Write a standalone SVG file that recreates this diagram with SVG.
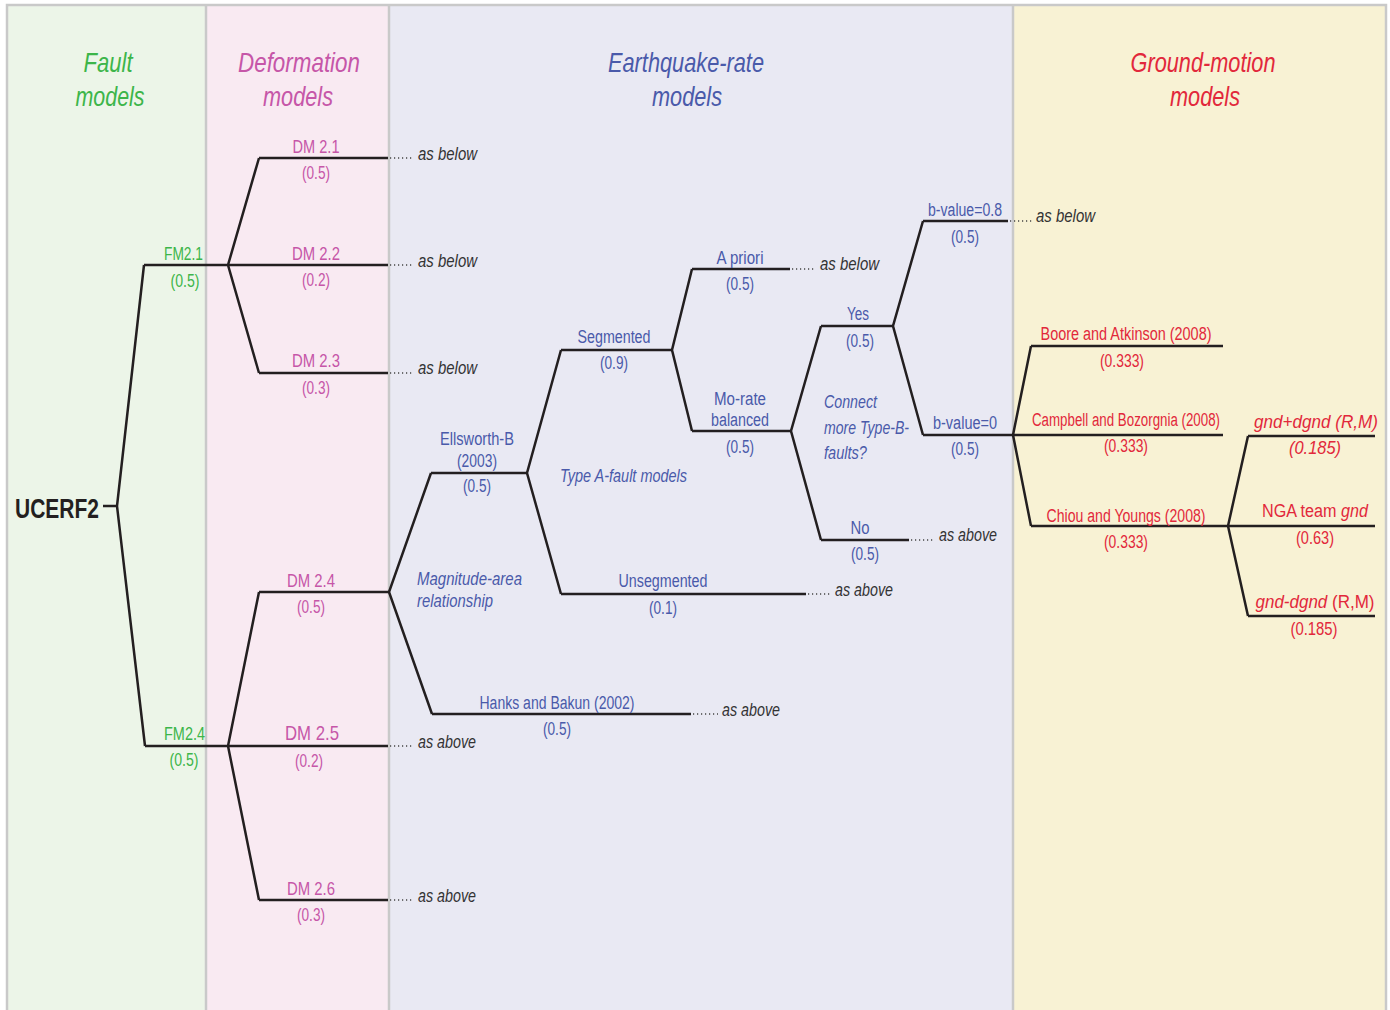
<svg xmlns="http://www.w3.org/2000/svg" width="1390" height="1010" viewBox="0 0 1390 1010">
<style>
text{font-family:"Liberation Sans",Arial,sans-serif;font-size:18px}
.c{text-anchor:middle}
.hd{font-size:28px;font-style:italic;text-anchor:middle}
.it{font-style:italic}
.g{fill:#3db54a}.m{fill:#c656a8}.b{fill:#4a5aaa}.r{fill:#e2283b}.k{fill:#333;font-style:italic}
.br{stroke:#231f20;stroke-width:2.5;fill:none;stroke-linejoin:miter}
.dot{stroke:#444;stroke-width:1.6;stroke-dasharray:1.2 2.8;fill:none}
.sep{stroke:#c9c9c9;stroke-width:2.5;fill:none}
.big{font-size:21px}
.root{font-size:27px;font-weight:bold;fill:#231f20}
</style>
<g id="panels">
<rect x="7" y="5" width="199" height="1010" fill="#ecf5e8"/>
<rect x="206" y="5" width="183" height="1010" fill="#f9eaf2"/>
<rect x="389" y="5" width="624" height="1010" fill="#e9e9f3"/>
<rect x="1013" y="5" width="373" height="1010" fill="#f8f2d4"/>
<path class="sep" d="M7,1012 V5 H1386 V1012 M206,5 V1012 M389,5 V1012 M1013,5 V1012"/>
<text class="hd g" x="108" y="72" textLength="49" lengthAdjust="spacingAndGlyphs">Fault</text>
<text class="hd g" x="110" y="106" textLength="69" lengthAdjust="spacingAndGlyphs">models</text>
<text class="hd m" x="299" y="72" textLength="122" lengthAdjust="spacingAndGlyphs">Deformation</text>
<text class="hd m" x="298" y="106" textLength="70" lengthAdjust="spacingAndGlyphs">models</text>
<text class="hd b" x="686" y="72" textLength="156" lengthAdjust="spacingAndGlyphs">Earthquake-rate</text>
<text class="hd b" x="687" y="106" textLength="70" lengthAdjust="spacingAndGlyphs">models</text>
<text class="hd r" x="1203" y="72" textLength="145" lengthAdjust="spacingAndGlyphs">Ground-motion</text>
<text class="hd r" x="1205" y="106" textLength="70" lengthAdjust="spacingAndGlyphs">models</text>
</g>
<g id="connectors">
<path class="br" d="M103,506 H117 M144,265 L117,506 L145,746"/>
<path class="br" d="M144,265 H388 M259,158 L228,265 L259,373 M259,158 H388 M259,373 H388"/>
<path class="br" d="M145,746 H388 M259,592 L228,746 L259,900 M259,592 H389 M259,900 H388"/>
<path class="br" d="M431,473 L389,592 L432,714 M431,473 H527 M432,714 H691"/>
<path class="br" d="M561,350 L527,473 L561,594 M561,350 H672 M561,594 H806"/>
<path class="br" d="M692,269 L672,350 L692,431 M692,269 H790 M692,431 H791"/>
<path class="br" d="M821,326 L791,431 L821,540 M821,326 H893 M821,540 H909"/>
<path class="br" d="M923,221 L893,326 L923,435 M923,221 H1008 M923,435 H1013"/>
<path class="br" d="M1031,346 L1013,435 L1031,526 M1031,346 H1223 M1013,435 H1223 M1031,526 H1228"/>
<path class="br" d="M1248,436 L1228,526 L1248,616 M1248,436 H1375 M1228,526 H1375 M1248,616 H1375"/>
<path class="dot" d="M390,158 H414 M390,265 H414 M390,373 H414 M390,746 H414 M390,900 H414 M792,269 H816 M808,594 H831 M911,540 H935 M693,714 H718 M1010,221 H1032"/>
</g>
<g id="node-ucerf2"><text class="root" x="15" y="518" textLength="84" lengthAdjust="spacingAndGlyphs">UCERF2</text></g>
<g id="node-fm21"><text class="g" x="164" y="260" textLength="39" lengthAdjust="spacingAndGlyphs">FM2.1</text><text class="g c" x="185" y="287" textLength="29" lengthAdjust="spacingAndGlyphs">(0.5)</text></g>
<g id="node-fm24"><text class="g" x="164" y="740" textLength="41" lengthAdjust="spacingAndGlyphs">FM2.4</text><text class="g c" x="184" y="766" textLength="29" lengthAdjust="spacingAndGlyphs">(0.5)</text></g>
<g id="node-dm21"><text class="m c" x="316" y="153" textLength="47" lengthAdjust="spacingAndGlyphs">DM 2.1</text><text class="m c" x="316" y="179" textLength="28" lengthAdjust="spacingAndGlyphs">(0.5)</text><text class="k" x="418" y="160" textLength="59" lengthAdjust="spacingAndGlyphs">as below</text></g>
<g id="node-dm22"><text class="m c" x="316" y="260" textLength="48" lengthAdjust="spacingAndGlyphs">DM 2.2</text><text class="m c" x="316" y="286" textLength="28" lengthAdjust="spacingAndGlyphs">(0.2)</text><text class="k" x="418" y="267" textLength="59" lengthAdjust="spacingAndGlyphs">as below</text></g>
<g id="node-dm23"><text class="m c" x="316" y="367" textLength="48" lengthAdjust="spacingAndGlyphs">DM 2.3</text><text class="m c" x="316" y="394" textLength="28" lengthAdjust="spacingAndGlyphs">(0.3)</text><text class="k" x="418" y="374" textLength="59" lengthAdjust="spacingAndGlyphs">as below</text></g>
<g id="node-dm24"><text class="m c" x="311" y="587" textLength="48" lengthAdjust="spacingAndGlyphs">DM 2.4</text><text class="m c" x="311" y="613" textLength="28" lengthAdjust="spacingAndGlyphs">(0.5)</text></g>
<g id="node-dm25"><text class="m c big" x="312" y="740" textLength="54" lengthAdjust="spacingAndGlyphs">DM 2.5</text><text class="m c" x="309" y="767" textLength="28" lengthAdjust="spacingAndGlyphs">(0.2)</text><text class="k" x="418" y="748" textLength="58" lengthAdjust="spacingAndGlyphs">as above</text></g>
<g id="node-dm26"><text class="m c" x="311" y="895" textLength="48" lengthAdjust="spacingAndGlyphs">DM 2.6</text><text class="m c" x="311" y="921" textLength="28" lengthAdjust="spacingAndGlyphs">(0.3)</text><text class="k" x="418" y="902" textLength="58" lengthAdjust="spacingAndGlyphs">as above</text></g>
<g id="node-magarea"><text class="b it" x="417" y="585" textLength="105" lengthAdjust="spacingAndGlyphs">Magnitude-area</text><text class="b it" x="417" y="607" textLength="76" lengthAdjust="spacingAndGlyphs">relationship</text></g>
<g id="node-ellsworth"><text class="b c" x="477" y="445" textLength="74" lengthAdjust="spacingAndGlyphs">Ellsworth-B</text><text class="b c" x="477" y="467" textLength="40" lengthAdjust="spacingAndGlyphs">(2003)</text><text class="b c" x="477" y="492" textLength="28" lengthAdjust="spacingAndGlyphs">(0.5)</text></g>
<g id="node-hanks"><text class="b c" x="557" y="709" textLength="155" lengthAdjust="spacingAndGlyphs">Hanks and Bakun (2002)</text><text class="b c" x="557" y="735" textLength="28" lengthAdjust="spacingAndGlyphs">(0.5)</text><text class="k" x="722" y="716" textLength="58" lengthAdjust="spacingAndGlyphs">as above</text></g>
<g id="node-typea"><text class="b it" x="560" y="482" textLength="127" lengthAdjust="spacingAndGlyphs">Type A-fault models</text></g>
<g id="node-segmented"><text class="b c" x="614" y="343" textLength="73" lengthAdjust="spacingAndGlyphs">Segmented</text><text class="b c" x="614" y="369" textLength="28" lengthAdjust="spacingAndGlyphs">(0.9)</text></g>
<g id="node-unsegmented"><text class="b c" x="663" y="587" textLength="89" lengthAdjust="spacingAndGlyphs">Unsegmented</text><text class="b c" x="663" y="614" textLength="28" lengthAdjust="spacingAndGlyphs">(0.1)</text><text class="k" x="835" y="596" textLength="58" lengthAdjust="spacingAndGlyphs">as above</text></g>
<g id="node-apriori"><text class="b c" x="740" y="264" textLength="47" lengthAdjust="spacingAndGlyphs">A priori</text><text class="b c" x="740" y="290" textLength="28" lengthAdjust="spacingAndGlyphs">(0.5)</text><text class="k" x="820" y="270" textLength="59" lengthAdjust="spacingAndGlyphs">as below</text></g>
<g id="node-morate"><text class="b c" x="740" y="405" textLength="52" lengthAdjust="spacingAndGlyphs">Mo-rate</text><text class="b c" x="740" y="426" textLength="58" lengthAdjust="spacingAndGlyphs">balanced</text><text class="b c" x="740" y="453" textLength="28" lengthAdjust="spacingAndGlyphs">(0.5)</text></g>
<g id="node-connect"><text class="b it" x="824" y="408" textLength="53" lengthAdjust="spacingAndGlyphs">Connect</text><text class="b it" x="824" y="434" textLength="85" lengthAdjust="spacingAndGlyphs">more Type-B-</text><text class="b it" x="824" y="459" textLength="43" lengthAdjust="spacingAndGlyphs">faults?</text></g>
<g id="node-yes"><text class="b c" x="858" y="320" textLength="22" lengthAdjust="spacingAndGlyphs">Yes</text><text class="b c" x="860" y="347" textLength="28" lengthAdjust="spacingAndGlyphs">(0.5)</text></g>
<g id="node-no"><text class="b c" x="860" y="534" textLength="19" lengthAdjust="spacingAndGlyphs">No</text><text class="b c" x="865" y="560" textLength="28" lengthAdjust="spacingAndGlyphs">(0.5)</text><text class="k" x="939" y="541" textLength="58" lengthAdjust="spacingAndGlyphs">as above</text></g>
<g id="node-b08"><text class="b c" x="965" y="216" textLength="74" lengthAdjust="spacingAndGlyphs">b-value=0.8</text><text class="b c" x="965" y="243" textLength="28" lengthAdjust="spacingAndGlyphs">(0.5)</text><text class="k" x="1036" y="222" textLength="59" lengthAdjust="spacingAndGlyphs">as below</text></g>
<g id="node-b0"><text class="b c" x="965" y="429" textLength="64" lengthAdjust="spacingAndGlyphs">b-value=0</text><text class="b c" x="965" y="455" textLength="28" lengthAdjust="spacingAndGlyphs">(0.5)</text></g>
<g id="node-boore"><text class="r c" x="1126" y="340" textLength="171" lengthAdjust="spacingAndGlyphs">Boore and Atkinson (2008)</text><text class="r c" x="1122" y="367" textLength="44" lengthAdjust="spacingAndGlyphs">(0.333)</text></g>
<g id="node-campbell"><text class="r c" x="1126" y="426" textLength="188" lengthAdjust="spacingAndGlyphs">Campbell and Bozorgnia (2008)</text><text class="r c" x="1126" y="452" textLength="44" lengthAdjust="spacingAndGlyphs">(0.333)</text></g>
<g id="node-chiou"><text class="r c" x="1126" y="522" textLength="159" lengthAdjust="spacingAndGlyphs">Chiou and Youngs (2008)</text><text class="r c" x="1126" y="548" textLength="44" lengthAdjust="spacingAndGlyphs">(0.333)</text></g>
<g id="node-gndplus"><text class="r c it" x="1316" y="428" textLength="124" lengthAdjust="spacingAndGlyphs">gnd+dgnd (R,M)</text><text class="r c it" x="1315" y="454" textLength="52" lengthAdjust="spacingAndGlyphs">(0.185)</text></g>
<g id="node-nga"><text class="r c" x="1315" y="517" textLength="106" lengthAdjust="spacingAndGlyphs">NGA team <tspan class="it">gnd</tspan></text><text class="r c" x="1315" y="544" textLength="38" lengthAdjust="spacingAndGlyphs">(0.63)</text></g>
<g id="node-gndminus"><text class="r c" x="1315" y="608" textLength="119" lengthAdjust="spacingAndGlyphs"><tspan class="it">gnd-dgnd</tspan> (R,M)</text><text class="r c" x="1314" y="635" textLength="47" lengthAdjust="spacingAndGlyphs">(0.185)</text></g>
</svg>
